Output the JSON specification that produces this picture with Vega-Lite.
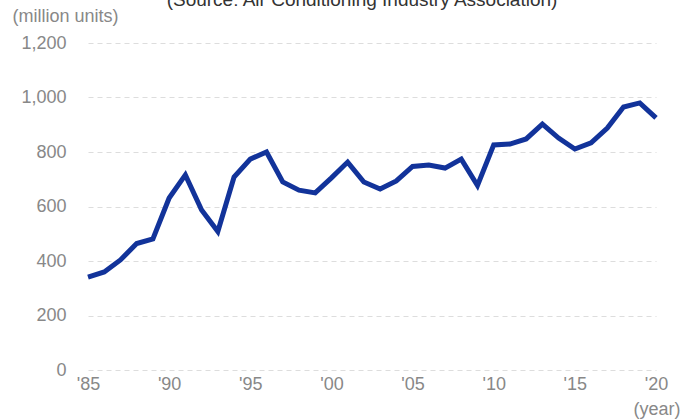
{
  "$schema": "https://vega.github.io/schema/vega-lite/v6.json",
  "autosize": "none",
  "width": 568,
  "height": 327,
  "padding": {"left": 88, "top": 43, "right": 25, "bottom": 50},
  "background": "white",
  "title": {
    "text": "(Source: Air Conditioning Industry Association)",
    "fontSize": 19,
    "font": "Liberation Sans",
    "fontWeight": "normal",
    "color": "#333333",
    "anchor": "middle",
    "baseline": "bottom",
    "offset": 0,
    "dy": 22,
    "dx": -10
  },
  "config": {
    "view": {"stroke": null},
    "font": "Liberation Sans"
  },
  "data": {
    "values": [
      {"year": 1985, "units": 341},
      {"year": 1986, "units": 360},
      {"year": 1987, "units": 404},
      {"year": 1988, "units": 464},
      {"year": 1989, "units": 481},
      {"year": 1990, "units": 631},
      {"year": 1991, "units": 716},
      {"year": 1992, "units": 587},
      {"year": 1993, "units": 508},
      {"year": 1994, "units": 708},
      {"year": 1995, "units": 774},
      {"year": 1996, "units": 800},
      {"year": 1997, "units": 690},
      {"year": 1998, "units": 660},
      {"year": 1999, "units": 650},
      {"year": 2000, "units": 705},
      {"year": 2001, "units": 763},
      {"year": 2002, "units": 690},
      {"year": 2003, "units": 664},
      {"year": 2004, "units": 694},
      {"year": 2005, "units": 747},
      {"year": 2006, "units": 752},
      {"year": 2007, "units": 741},
      {"year": 2008, "units": 774},
      {"year": 2009, "units": 677},
      {"year": 2010, "units": 826},
      {"year": 2011, "units": 829},
      {"year": 2012, "units": 848},
      {"year": 2013, "units": 902},
      {"year": 2014, "units": 851},
      {"year": 2015, "units": 811},
      {"year": 2016, "units": 834},
      {"year": 2017, "units": 888},
      {"year": 2018, "units": 965},
      {"year": 2019, "units": 980},
      {"year": 2020, "units": 925}
    ]
  },
  "mark": {"type": "line", "color": "#12339a", "strokeWidth": 5, "strokeJoin": "miter", "strokeCap": "butt"},
  "encoding": {
    "x": {
      "field": "year",
      "type": "quantitative",
      "scale": {"domain": [1985, 2020], "nice": false, "zero": false},
      "axis": {
        "values": [1985, 1990, 1995, 2000, 2005, 2010, 2015, 2020],
        "labelExpr": "\"'\" + slice(toString(datum.value), 2)",
        "grid": false,
        "domain": false,
        "ticks": false,
        "labelColor": "#888888",
        "labelFontSize": 18,
        "labelPadding": 5,
        "labelFlush": false,
        "title": "(year)",
        "titleColor": "#888888",
        "titleFontSize": 18,
        "titleFontWeight": "normal",
        "titleAnchor": "end",
        "titleAlign": "right",
        "titleX": 592,
        "titleY": 48,
        "titleBaseline": "bottom"
      }
    },
    "y": {
      "field": "units",
      "type": "quantitative",
      "scale": {"domain": [0, 1200], "nice": false},
      "axis": {
        "values": [0, 200, 400, 600, 800, 1000, 1200],
        "format": ",d",
        "grid": true,
        "gridColor": "#dddddd",
        "gridDash": [5, 4],
        "gridWidth": 1,
        "domain": false,
        "ticks": false,
        "labelColor": "#888888",
        "labelFontSize": 18,
        "labelPadding": 22,
        "title": "(million units)",
        "titleColor": "#888888",
        "titleFontSize": 18,
        "titleFontWeight": "normal",
        "titleAngle": 0,
        "titleAlign": "left",
        "titleBaseline": "bottom",
        "titleX": -76,
        "titleY": -18
      }
    }
  }
}
